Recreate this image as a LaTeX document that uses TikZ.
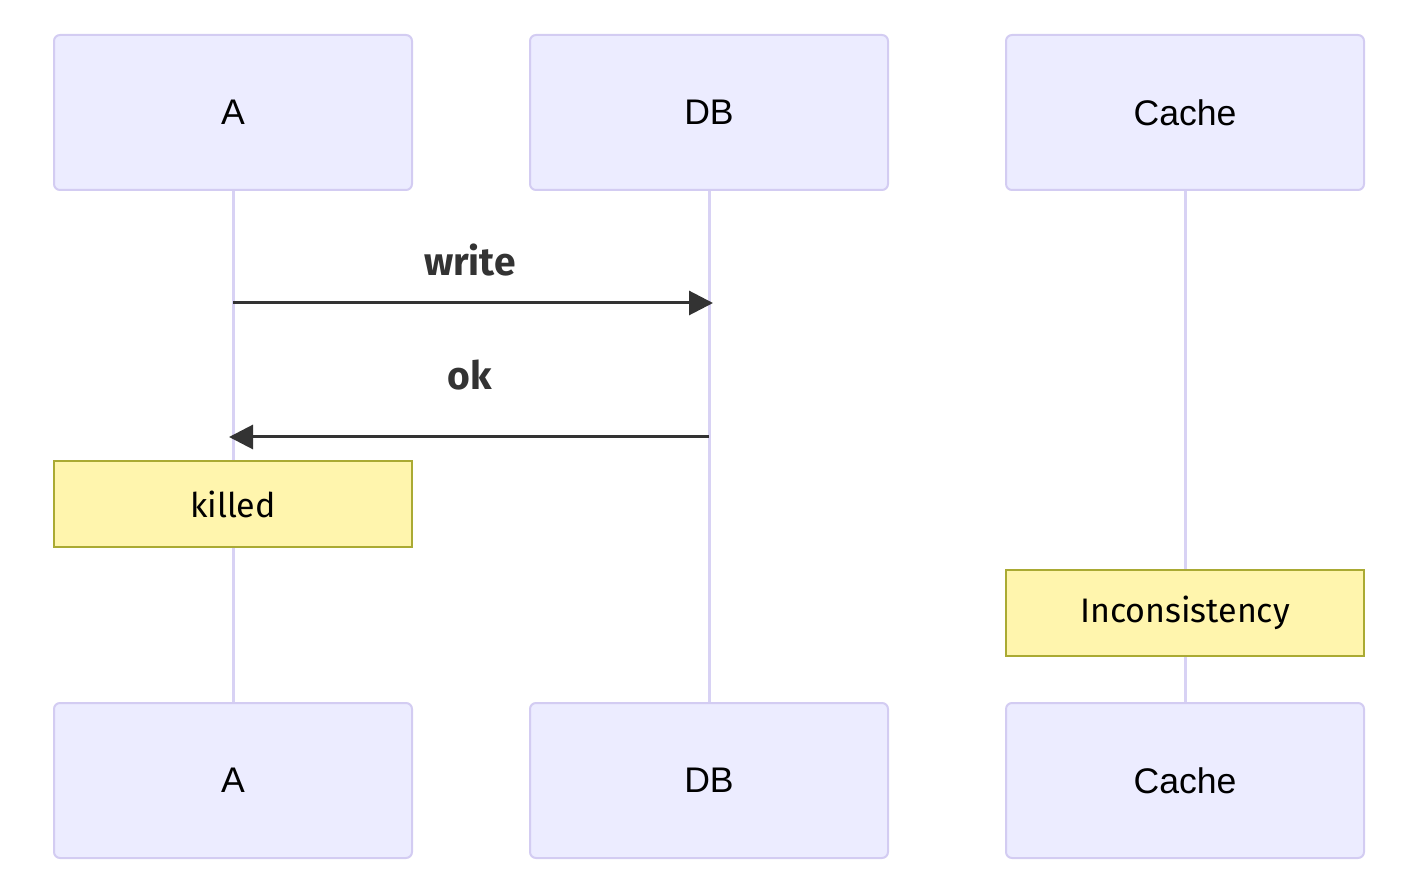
\documentclass[tikz,border=0pt]{standalone}
\usepackage{fontspec}
\setmainfont{Liberation Sans}
\newfontfamily\notefont{Fira Sans}
\usetikzlibrary{arrows.meta}
\definecolor{actorfill}{HTML}{ECECFF}
\definecolor{actorline}{HTML}{D3CCF2}
\definecolor{lifeline}{HTML}{D8D2F4}
\definecolor{notefill}{HTML}{FFF5AD}
\definecolor{noteline}{HTML}{AAAA33}
\definecolor{msgline}{HTML}{333333}
\tikzset{
  actor/.style={draw=actorline, fill=actorfill, line width=1pt, rounded corners=3pt,
    minimum width=179pt, minimum height=77.5pt, font=\fontsize{17.8}{20}\selectfont},
  note/.style={draw=noteline, fill=notefill, line width=1pt,
    minimum width=179pt, minimum height=43pt, font=\notefont\fontsize{17}{20}\selectfont},
  msg/.style={draw=msgline, line width=1.5pt, -{Triangle[length=12pt,width=12pt]}},
  msglabel/.style={font=\notefont\bfseries\fontsize{19.5}{22}\selectfont, text=msgline}
}
\begin{document}
\begin{tikzpicture}[x=0.5pt, y=-0.5pt]
\useasboundingbox (0,0) rectangle (1406,892);

% Lifelines
\draw[lifeline, line width=1.5pt] (233,190)--(233,703);
\draw[lifeline, line width=1.5pt] (709,190)--(709,703);
\draw[lifeline, line width=1.5pt] (1185,190)--(1185,703);

% Actors
\node[actor] (Atop) at (233,112.5) {A};
\node[actor] (DBtop) at (709,112.5) {DB};
\node[actor] (Cachetop) at (1185,112.5) {Cache};
\node[actor] (Abot) at (233,780.5) {A};
\node[actor] (DBbot) at (709,780.5) {DB};
\node[actor] (Cachebot) at (1185,780.5) {Cache};

% Messages
\coordinate (writeA) at (233,303);
\coordinate (writeDB) at (713,303);
\coordinate (okDB) at (709,437);
\coordinate (okA) at (229,437);
\draw[msg] (writeA) -- (writeDB);
\node[msglabel] (writelabel) at (470,260) {write};
\draw[msg] (okDB) -- (okA);
\node[msglabel] (oklabel) at (470,375) {ok};

% Notes
\node[note] (killed) at (233,504) {killed};
\node[note] (inconsistency) at (1185,613) {Inconsistency};

\end{tikzpicture}
\end{document}
